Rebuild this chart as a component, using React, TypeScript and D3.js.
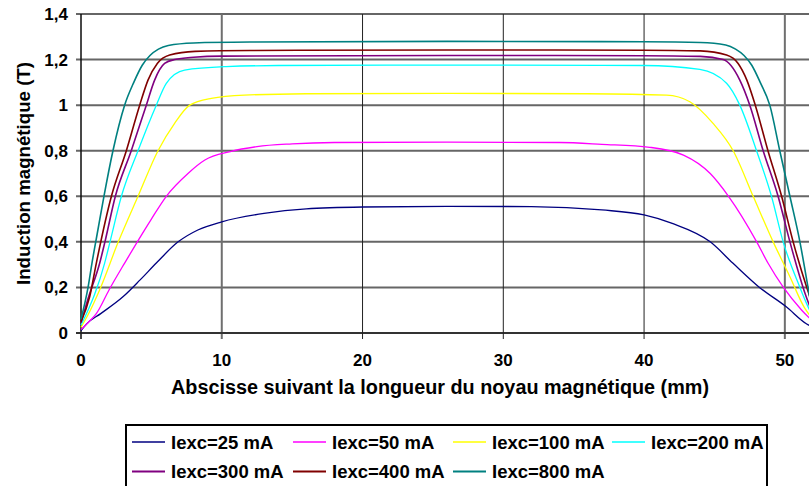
import React from 'react';
import * as d3 from 'd3';

// ---- data ----
const xTicks = [0, 10, 20, 30, 40, 50];
const yTicks = [0, 0.2, 0.4, 0.6, 0.8, 1, 1.2, 1.4];
const yTickLabels = ['0', '0,2', '0,4', '0,6', '0,8', '1', '1,2', '1,4'];

const seriesNames = ['Iexc=25 mA', 'Iexc=50 mA', 'Iexc=100 mA', 'Iexc=200 mA', 'Iexc=300 mA', 'Iexc=400 mA', 'Iexc=800 mA'];
const seriesColors = ['#000080', '#FF00FF', '#FFFF00', '#00FFFF', '#800080', '#800000', '#008080'];

const s25: [number, number][] = [
  [0, 0.01], [0.4, 0.04], [1.4, 0.085], [3, 0.16], [4.2, 0.233], [5.35, 0.307], [6.9, 0.4], [8.3, 0.452],
  [10, 0.488], [13, 0.525], [16, 0.545], [20, 0.553], [26, 0.556], [32, 0.555], [37, 0.54], [40, 0.518],
  [42, 0.481], [44.7, 0.4], [46.3, 0.307], [48.2, 0.2], [50.1, 0.115], [51.5, 0.042], [52, 0.025],
];
const s50: [number, number][] = [
  [0, 0.015], [0.5, 0.045], [1.1, 0.086], [2, 0.19], [3.1, 0.307], [4, 0.4], [5, 0.5], [6.06, 0.6],
  [7.6, 0.7], [8.8, 0.759], [10.6, 0.796], [12.5, 0.818], [15, 0.83], [18, 0.836], [26, 0.838], [34, 0.836],
  [37, 0.828], [40.4, 0.815], [42.8, 0.781], [44.7, 0.7], [46, 0.6], [48, 0.4], [48.8, 0.307], [49.9, 0.2],
  [51.2, 0.1], [52, 0.05],
];
const s100: [number, number][] = [
  [0, 0.025], [0.5, 0.08], [1.33, 0.19], [2.65, 0.4], [4.05, 0.6], [5.47, 0.8], [6.65, 0.92], [7.72, 1.0],
  [9.26, 1.03], [11.6, 1.044], [16, 1.05], [26, 1.052], [36, 1.05], [41.6, 1.044], [43.25, 1.015], [44.9, 0.92],
  [46.33, 0.8], [47.75, 0.6], [49.17, 0.4], [50.36, 0.247], [51.4, 0.11], [52, 0.06],
];
const s200: [number, number][] = [
  [0, 0.035], [0.5, 0.1], [0.97, 0.17], [1.68, 0.307], [2.06, 0.4], [2.87, 0.6], [4.05, 0.8], [5.35, 1.0],
  [6.06, 1.096], [7.36, 1.154], [10.3, 1.169], [14, 1.174], [26, 1.176], [40, 1.174], [43.96, 1.157],
  [45.86, 1.096], [46.8, 1.0], [47.99, 0.8], [49.05, 0.6], [49.88, 0.4], [51.07, 0.2], [51.54, 0.13], [52, 0.07],
];
const s300: [number, number][] = [
  [0, 0.045], [0.5, 0.15], [1.33, 0.307], [1.7, 0.4], [2.44, 0.6], [3.57, 0.8], [4.64, 1.0], [5.23, 1.11],
  [5.94, 1.183], [6.65, 1.2], [8, 1.21], [10, 1.215], [26, 1.218], [40, 1.217], [44, 1.214], [45.62, 1.2],
  [46.8, 1.11], [47.51, 1.0], [48.46, 0.8], [49.52, 0.6], [50.36, 0.4], [51.4, 0.18], [52, 0.08],
];
const s400: [number, number][] = [
  [0, 0.05], [0.62, 0.16], [1.09, 0.307], [2.16, 0.6], [3.22, 0.8], [4.17, 1.0], [4.76, 1.11], [5.42, 1.183],
  [6.3, 1.22], [8.1, 1.236], [12, 1.24], [26, 1.242], [40, 1.241], [44, 1.238], [45.86, 1.22], [46.68, 1.183],
  [47.3, 1.11], [47.9, 1.0], [48.8, 0.8], [49.77, 0.6], [50.59, 0.4], [51.54, 0.203], [52, 0.12],
];
const s800: [number, number][] = [
  [0, 0.06], [0.5, 0.2], [0.78, 0.307], [1.2, 0.452], [1.63, 0.6], [2.27, 0.8], [3.1, 1.0], [3.75, 1.1],
  [4.35, 1.175], [4.9, 1.218], [5.5, 1.246], [6.2, 1.262], [8, 1.273], [12, 1.277], [26, 1.28], [40, 1.278],
  [44, 1.275], [45.8, 1.264], [46.5, 1.246], [47.1, 1.218], [47.65, 1.175], [48.25, 1.1], [48.93, 1.0],
  [49.64, 0.8], [50.36, 0.6], [51.07, 0.4], [51.7, 0.18], [52, 0.07],
];
const seriesData = [s25, s50, s100, s200, s300, s400, s800];

const W = 809;
const H = 486;
const FONT = '"Liberation Sans", Arial, Helvetica, sans-serif';

export default function App() {
  const x = d3.scaleLinear().domain([0, 52]).range([81, 813]);
  const y = d3.scaleLinear().domain([0, 1.4]).range([333, 14]);
  const line = d3
    .line<[number, number]>()
    .x((d) => x(d[0]))
    .y((d) => y(d[1]))
    .curve(d3.curveMonotoneX);

  const legendCols = [132, 293, 453, 612];
  const legendRows = [442, 471.5];

  return (
    <div style={{ position: 'fixed', left: 0, top: 0, width: W, height: H, background: '#fff' }}>
      <svg width={W} height={H} style={{ display: 'block', fontFamily: FONT }}>
        <rect x={0} y={0} width={W} height={H} fill="#ffffff" />
        {/* horizontal gridlines */}
        {yTicks.map((t) => (
          <line key={'gy' + t} x1={76} x2={W} y1={y(t)} y2={y(t)} stroke="#666" strokeWidth={2} />
        ))}
        {/* vertical gridlines / ticks */}
        {xTicks.map((t) => (
          <line
            key={'gx' + t}
            x1={x(t)}
            x2={x(t)}
            y1={y(1.4)}
            y2={339}
            stroke={t === 10 || t === 50 ? '#6f6f6f' : '#222'}
            strokeWidth={t === 10 || t === 50 ? 2 : 1}
          />
        ))}
        {/* axes */}
        <line x1={x(0)} x2={x(0)} y1={y(1.4)} y2={339} stroke="#000" strokeWidth={1} />
        <line x1={76} x2={W} y1={y(0)} y2={y(0)} stroke="#222" strokeWidth={1.5} />

        {/* series */}
        {seriesData.map((d, i) => (
          <path
            key={'s' + i}
            d={line(d) || ''}
            fill="none"
            stroke={seriesColors[i]}
            strokeWidth={i >= 4 ? 1.6 : 1.3}
          />
        ))}

        {/* y tick labels */}
        {yTicks.map((t, i) => (
          <text key={'yl' + t} x={68} y={y(t) + 6} textAnchor="end" fontSize={17} fontWeight="bold" fill="#000">
            {yTickLabels[i]}
          </text>
        ))}
        {/* x tick labels */}
        {xTicks.map((t) => (
          <text key={'xl' + t} x={x(t)} y={366} textAnchor="middle" fontSize={17} fontWeight="bold" fill="#000">
            {String(t)}
          </text>
        ))}

        {/* axis titles */}
        <text x={440} y={394} textAnchor="middle" fontSize={19.5} fontWeight="bold" fill="#000" textLength={538} lengthAdjust="spacingAndGlyphs">
          Abscisse suivant la longueur du noyau magnétique (mm)
        </text>
        <text
          transform="translate(30,173.5) rotate(-90)"
          textAnchor="middle"
          fontSize={19}
          fontWeight="bold"
          fill="#000"
          textLength={223}
          lengthAdjust="spacingAndGlyphs"
        >
          Induction magnétique (T)
        </text>

        {/* legend */}
        <rect x={126} y={425} width={641} height={90} fill="#fff" stroke="#000" strokeWidth={2} />
        {seriesNames.map((name, i) => {
          const col = i % 4;
          const row = Math.floor(i / 4);
          const lx = legendCols[col];
          const ly = legendRows[row];
          return (
            <g key={'lg' + i}>
              <line x1={lx} x2={lx + 33} y1={ly} y2={ly} stroke={seriesColors[i]} strokeWidth={row === 1 ? 2 : 1.3} />
              <text x={lx + 39} y={ly + 6.5} fontSize={18.5} fontWeight="bold" fill="#000">
                {name}
              </text>
            </g>
          );
        })}
      </svg>
    </div>
  );
}
